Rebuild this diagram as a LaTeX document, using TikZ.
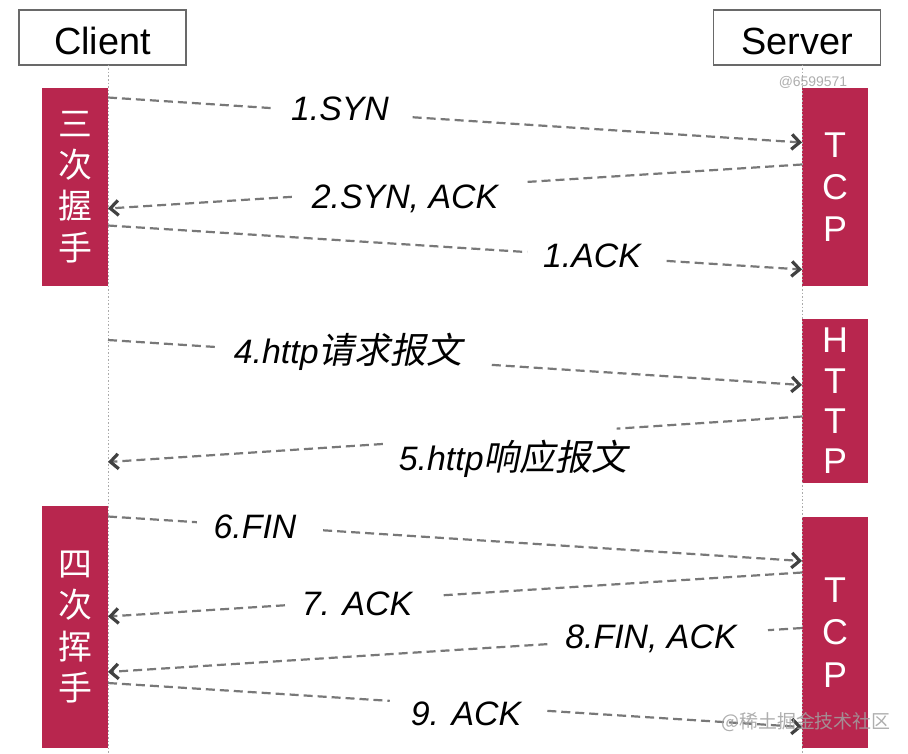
\documentclass[tikz,border=0pt]{standalone}
\usepackage{fontspec}
\setmainfont{Liberation Sans}
\newfontfamily\cjk{Noto Sans CJK SC}
\newfontfamily\cjkit{Noto Sans CJK SC}[FakeSlant=0.2]
\usetikzlibrary{arrows.meta,calc}
\definecolor{tcpred}{RGB}{184,38,78}
\definecolor{dashgray}{RGB}{120,120,120}
\definecolor{tipgray}{RGB}{65,65,65}
\definecolor{framegray}{RGB}{105,105,105}
\definecolor{lifegray}{RGB}{170,170,170}
\definecolor{wmgray}{RGB}{160,160,160}
\begin{document}
\begin{tikzpicture}[x=1bp,y=-1bp,
  hdr/.style={draw=framegray,line width=1.4bp,minimum width=167bp,minimum height=55bp,
    inner sep=0pt,text height=35bp,text depth=0bp,font=\fontsize{38}{40}\selectfont},
  redbox/.style={fill=tcpred,draw=none,minimum width=66bp,inner sep=0pt,text=white,align=center},
  cjkstack/.style={font=\fontsize{34}{41.5}\selectfont\cjk},
  latstack/.style={font=\fontsize{36}{#1}\selectfont},
  life/.style={draw=lifegray,line width=0.9bp,dash pattern=on 1.5bp off 2bp},
  msg/.style={draw=dashgray,line width=2.2bp,dash pattern=on 9bp off 5bp},
  tipped/.style={-{Straight Barb[length=8bp,width=15bp,line width=3.2bp,color=tipgray]}},
  lbl/.style={anchor=base,inner sep=0pt,font=\fontsize{34}{40}\selectfont\itshape},
  wm/.style={inner sep=0pt,text=wmgray,text opacity=0.85}
]
\useasboundingbox (0,0) rectangle (908,754);
\fill[white] (0,0) rectangle (908,754);

% header boxes
\node[hdr] (client) at (102.5,37.5) {Client};
\node[hdr] (server) at (797,37.5) {Server};

% red phase boxes
\node[redbox,minimum height=198bp,cjkstack] (hs) at (75,187) {三\\次\\握\\手};
\node[redbox,minimum height=242bp,cjkstack] (fw) at (75,627) {四\\次\\挥\\手};
\node[redbox,minimum height=198bp,latstack=42] (tcpa) at (835,187) {T\\C\\P};
\node[redbox,minimum height=164bp,latstack=40.5] (http) at (835,401) {H\\T\\T\\P};
\node[redbox,minimum height=231bp,latstack=43] (tcpb) at (835,632.5) {T\\C\\P};

% lifelines
\coordinate (cltop) at (108,65);
\coordinate (clbot) at (108,754);
\coordinate (svtop) at (802,65);
\coordinate (svbot) at (802,754);
\draw[life] (cltop) -- (clbot);
\draw[life] (svtop) -- (svbot);

% message end points
\coordinate (m1a) at (108,97.5);  \coordinate (m1b) at (802,142.5);
\coordinate (m2a) at (802,164.5); \coordinate (m2b) at (108,208.5);
\coordinate (m3a) at (108,225.5); \coordinate (m3b) at (802,269.5);
\coordinate (m4a) at (108,340);   \coordinate (m4b) at (802,385);
\coordinate (m5a) at (802,416.5); \coordinate (m5b) at (108,462);
\coordinate (m6a) at (108,516.5); \coordinate (m6b) at (802,561);
\coordinate (m7a) at (802,572.5); \coordinate (m7b) at (108,616.5);
\coordinate (m8a) at (802,628);   \coordinate (m8b) at (108,672);
\coordinate (m9a) at (108,683);   \coordinate (m9b) at (802,727);

% messages (dashed, broken where the label sits)
\draw[msg] (m1a) -- ($(m1a)!0.238!(m1b)$);
\draw[msg,tipped] ($(m1a)!0.439!(m1b)$) -- (m1b);
\draw[msg] (m2a) -- ($(m2a)!0.396!(m2b)$);
\draw[msg,tipped] ($(m2a)!0.735!(m2b)$) -- (m2b);
\draw[msg] (m3a) -- ($(m3a)!0.604!(m3b)$);
\draw[msg,tipped] ($(m3a)!0.805!(m3b)$) -- (m3b);
\draw[msg] (m4a) -- ($(m4a)!0.154!(m4b)$);
\draw[msg,tipped] ($(m4a)!0.553!(m4b)$) -- (m4b);
\draw[msg] (m5a) -- ($(m5a)!0.267!(m5b)$);
\draw[msg,tipped] ($(m5a)!0.604!(m5b)$) -- (m5b);
\draw[msg] (m6a) -- ($(m6a)!0.128!(m6b)$);
\draw[msg,tipped] ($(m6a)!0.310!(m6b)$) -- (m6b);
\draw[msg] (m7a) -- ($(m7a)!0.522!(m7b)$);
\draw[msg,tipped] ($(m7a)!0.745!(m7b)$) -- (m7b);
\draw[msg] (m8a) -- ($(m8a)!0.049!(m8b)$);
\draw[msg,tipped] ($(m8a)!0.367!(m8b)$) -- (m8b);
\draw[msg] (m9a) -- ($(m9a)!0.406!(m9b)$);
\draw[msg,tipped] ($(m9a)!0.633!(m9b)$) -- (m9b);

% labels
\node[lbl] (l1) at (340,120) {1.SYN};
\node[lbl] (l2) at (405,208) {2.SYN, ACK};
\node[lbl] (l3) at (592,267) {1.ACK};
\node[lbl] (l4) at (348,363) {4.http{\fontsize{36}{40}\selectfont\cjkit 请求报文}};
\node[lbl] (l5) at (513,470) {5.http{\fontsize{36}{40}\selectfont\cjkit 响应报文}};
\node[lbl] (l6) at (255,538) {6.FIN};
\node[lbl] (l7) at (357,615) {7. ACK};
\node[lbl] (l8) at (651,648) {8.FIN, ACK};
\node[lbl] (l9) at (466,725) {9. ACK};

% watermarks
\node[wm,font=\fontsize{14}{16}\selectfont] (wm1) at (813,82) {@6599571};
\node[wm,font=\fontsize{19}{21}\selectfont\cjk] (wm2) at (806,722) {@稀土掘金技术社区};
\end{tikzpicture}
\end{document}
